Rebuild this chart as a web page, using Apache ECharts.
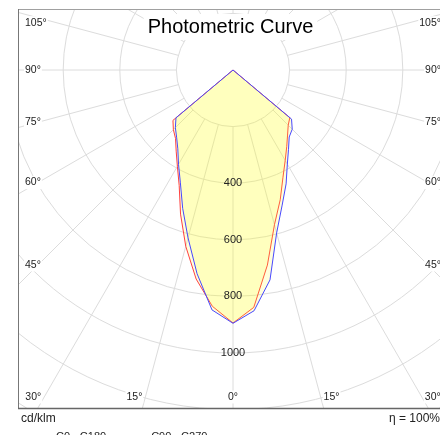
<!DOCTYPE html>
<html>
<head>
<meta charset="utf-8">
<script src="https://cdn.jsdelivr.net/npm/echarts@6/dist/echarts.min.js"></script>
<style>
html,body{margin:0;padding:0;background:#fff;}
#chart{width:440px;height:435px;}
</style>
</head>
<body>
<div id="chart"></div>
<script>
// ---- data (cd/klm) ----
const gamma = [0,5,10,15,20,25,30,35,40,45,50,55,60,65,70,75,80,85,90];
const c0    = [894,842,700,566,488,418,369,331,300,276,262,0,0,0,0,0,0,0,0];
const c180  = [894,838,750,645,542,450,393,350,316,298,277,0,0,0,0,0,0,0,0];
const c90   = [895,854,753,596,508,444,384,342,309,296,270,0,0,0,0,0,0,0,0];
const c270  = [895,851,731,614,520,440,385,340,310,288,263,0,0,0,0,0,0,0,0];
const seriesNames = ['C0 - C180', 'C90 - C270'];
const radiusTickLabels = [400, 600, 800, 1000];
const angleTickLabels = [0, 15, 30, 45, 60, 75, 90, 105];
const spokeAngles = [-165,-150,-135,-120,-105,-90,-75,-60,-45,-30,-15,0,15,30,45,60,75,90,105,120,135,150,165,180];
const titleText = 'Photometric Curve';
const unitText = 'cd/klm';
const effText = 'η = 100%';

// left half (positive angle) then right half (negative angle)
function plane(left, right) {
  const out = [];
  for (let i = gamma.length - 1; i >= 0; i--) out.push([left[i], gamma[i]]);
  for (let i = 1; i < gamma.length; i++) out.push([right[i], -gamma[i]]);
  return out;
}

const chart = echarts.init(document.getElementById('chart'), null, {renderer: 'canvas'});
const FR = {l: 18, t: 9, r: 448, b: 409};
const gridColor = '#dcdcdc';
const FONT = '"Liberation Sans", Arial, sans-serif';

const option = {
  backgroundColor: '#fff',
  animation: false,
  polar: {center: [233, 70], radius: 452.8},
  radiusAxis: {
    type: 'value', min: 0, max: 1600, interval: 200,
    axisLine: {show: false}, axisTick: {show: false}, axisLabel: {show: false},
    splitLine: {show: true, lineStyle: {color: gridColor, width: 1}}
  },
  angleAxis: {
    type: 'value', min: -180, max: 180, startAngle: 90, clockwise: true,
    axisLine: {show: false}, axisTick: {show: false}, axisLabel: {show: false},
    splitLine: {show: false}
  },
  legend: {
    data: seriesNames, left: 18, top: 426, icon: 'rect', itemWidth: 28, itemHeight: 2,
    itemGap: 12, z: 200, textStyle: {fontSize: 11, color: '#222', fontFamily: FONT}
  },
  series: [
    {
      type: 'custom', coordinateSystem: 'polar', silent: true, z: 1,
      data: spokeAngles.map(a => [0, a]),
      renderItem: function (params, api) {
        const a = api.value(1);
        const p1 = api.coord([200, a]);
        const p2 = api.coord([1600, a]);
        return {type: 'line', shape: {x1: p1[0], y1: p1[1], x2: p2[0], y2: p2[1]},
          style: {stroke: gridColor, lineWidth: 1}};
      }
    },
    {
      name: seriesNames[0], type: 'line', coordinateSystem: 'polar', data: plane(c180, c0),
      symbol: 'none', z: 3, lineStyle: {color: '#ff4040', width: 1}, itemStyle: {color: '#ff7070'},
      areaStyle: {color: 'rgba(255,255,40,0.16)', opacity: 1}
    },
    {
      name: seriesNames[1], type: 'line', coordinateSystem: 'polar', data: plane(c270, c90),
      symbol: 'none', z: 4, lineStyle: {color: '#4848ff', width: 1}, itemStyle: {color: '#7878ff'},
      areaStyle: {color: 'rgba(255,255,40,0.16)', opacity: 1}
    },
    {
      type: 'custom', coordinateSystem: 'polar', silent: true, z: 5,
      data: radiusTickLabels.map(v => [v, 0]),
      renderItem: function (params, api) {
        const p = api.coord([api.value(0), 0]);
        return {type: 'text', x: p[0], y: p[1],
          style: {text: String(api.value(0)), textAlign: 'center', textVerticalAlign: 'middle',
            fill: '#222', font: '11px ' + FONT}};
      }
    }
  ]
};
chart.setOption(option);

// decorations: clipping covers, frame, title, angle labels
const c = chart.convertToPixel({seriesIndex: 1}, [0, 0]);
const cx = c[0], cy = c[1];
const g = [];
g.push({type: 'rect', shape: {x: 0, y: 0, width: FR.l, height: 435}, style: {fill: '#fff'}, z: 100});
g.push({type: 'rect', shape: {x: 0, y: 0, width: 440, height: FR.t}, style: {fill: '#fff'}, z: 100});
g.push({type: 'rect', shape: {x: 0, y: FR.b, width: 440, height: 435 - FR.b}, style: {fill: '#fff'}, z: 100});
g.push({type: 'line', shape: {x1: FR.l, y1: FR.t + 0.5, x2: 440, y2: FR.t + 0.5}, style: {stroke: '#a0a0a0', lineWidth: 1}, z: 101});
g.push({type: 'line', shape: {x1: FR.l + 0.5, y1: FR.t, x2: FR.l + 0.5, y2: FR.b}, style: {stroke: '#777', lineWidth: 1}, z: 101});
g.push({type: 'line', shape: {x1: FR.l, y1: FR.b - 0.5, x2: 440, y2: FR.b - 0.5}, style: {stroke: '#666', lineWidth: 1.5}, z: 101});
g.push({type: 'text', x: 230.5, y: 27, z: 102,
  style: {text: titleText, textAlign: 'center', textVerticalAlign: 'middle', fill: '#000',
    font: '20px ' + FONT, backgroundColor: '#fff', padding: [3, 4]}});
const lblFont = '10.5px ' + FONT;
angleTickLabels.forEach(function (a) {
  [1, -1].forEach(function (side) {
    if (a === 0 && side === -1) return;
    const rad = a * Math.PI / 180;
    const dx = -Math.sin(rad) * side; // left side: negative x
    const dy = Math.cos(rad);
    let x, y, align;
    const ybot = 397;
    const xb = dy > 0 ? cx + dx * (ybot - cy) / dy : null;
    if (a === 0) { x = cx; y = ybot; align = 'center'; }
    else if (xb !== null && xb > 30 && xb < 430) {
      y = ybot;
      if (side === 1) { x = xb - 2; align = 'right'; } else { x = xb + 2; align = 'left'; }
    } else {
      const xs = side === 1 ? 38 : 428;
      y = cy + dy * (xs - cx) / dx;
      if (a > 90) y += 5;
      if (side === 1) { x = 24; align = 'left'; } else { x = 442; align = 'right'; }
    }
    g.push({type: 'text', x: x, y: y, z: 102,
      style: {text: a + '°', textAlign: align, textVerticalAlign: 'middle', fill: '#222',
        font: lblFont, backgroundColor: '#fff', padding: [1, 1]}});
  });
});
g.push({type: 'text', x: 21, y: 419, z: 102,
  style: {text: unitText, textAlign: 'left', textVerticalAlign: 'middle', fill: '#222', font: '12px ' + FONT}});
g.push({type: 'text', x: 440, y: 419, z: 102,
  style: {text: effText, textAlign: 'right', textVerticalAlign: 'middle', fill: '#222', font: '12px ' + FONT}});
chart.setOption({graphic: {elements: g}});
</script>
</body>
</html>
